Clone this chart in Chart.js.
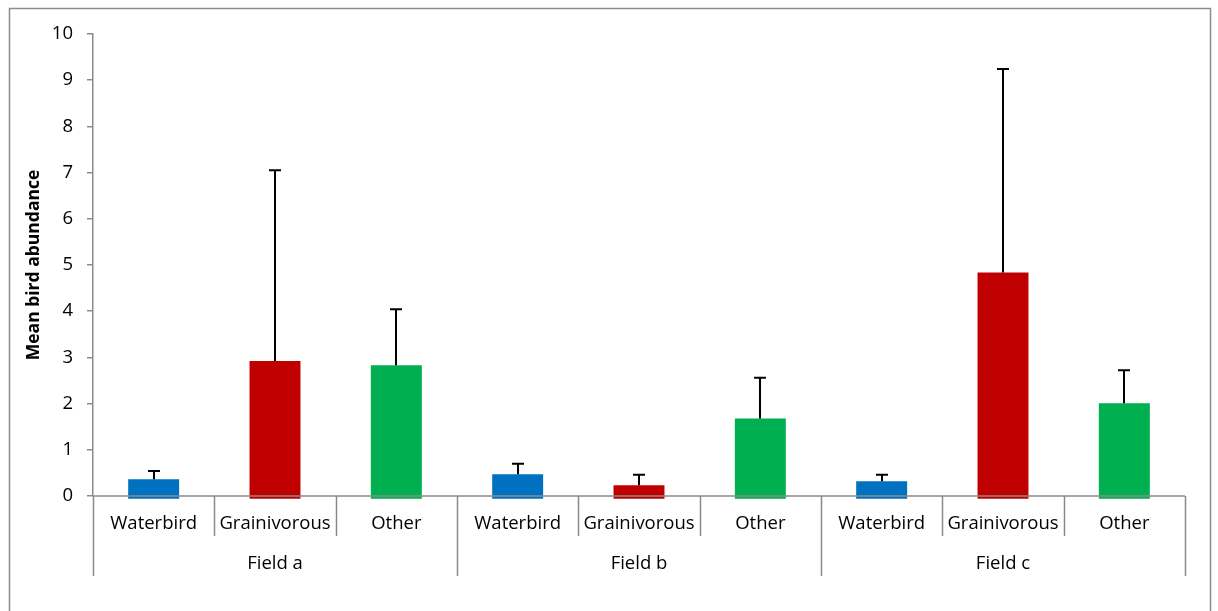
<!DOCTYPE html>
<html>
<head>
<meta charset="utf-8">
<script src="https://cdn.jsdelivr.net/npm/chart.js@4.4.1/dist/chart.umd.min.js"></script>
<style>
  html, body { margin: 0; padding: 0; background: #fff; }
  #wrap { position: relative; width: 1218px; height: 611px; }
</style>
</head>
<body>
<div id="wrap"><canvas id="c" width="1218" height="611"></canvas></div>
<script>
// Bird groups recorded in each field
const categories = ['Waterbird', 'Grainivorous', 'Other',
                    'Waterbird', 'Grainivorous', 'Other',
                    'Waterbird', 'Grainivorous', 'Other'];
const fields = ['Field a', 'Field b', 'Field c'];

// Mean abundance per group and the upper end of its error bar
const meanAbundance = [0.36, 2.92, 2.83, 0.47, 0.23, 1.68, 0.32, 4.84, 2.01];
const errorTop      = [0.54, 7.05, 4.04, 0.70, 0.46, 2.56, 0.46, 9.24, 2.72];

const yTicks = [0, 1, 2, 3, 4, 5, 6, 7, 8, 9, 10];

const groupColours = { Waterbird: '#0070C0', Grainivorous: '#C00000', Other: '#00B050' };
const AXIS_GREY = '#8a8a8a';
const FONT = '"Open Sans", "Liberation Sans", sans-serif';
const LABEL_SIZE = 18.5;

// Frame around the whole figure
const framePlugin = {
  id: 'frame',
  beforeDraw(chart) {
    const ctx = chart.ctx;
    ctx.save();
    ctx.strokeStyle = '#8c8c8c';
    ctx.lineWidth = 1.5;
    ctx.strokeRect(9.5, 8.5, 1201, 640);
    ctx.restore();
  }
};

// Horizontal axis line plus the category / field separators
const axisPlugin = {
  id: 'groupedAxis',
  afterDatasetsDraw(chart) {
    const ctx = chart.ctx;
    const x = chart.scales.x;
    const y0 = chart.scales.y.getPixelForValue(0);
    const step = (x.right - x.left) / categories.length;
    ctx.save();
    ctx.strokeStyle = AXIS_GREY;
    ctx.lineWidth = 1.5;
    ctx.beginPath();
    ctx.moveTo(x.left, y0);
    ctx.lineTo(x.right, y0);
    for (let i = 0; i <= categories.length; i++) {
      const px = Math.round(x.left + i * step) + 0.5;
      const depth = (i % 3 === 0) ? 80 : 40;
      ctx.moveTo(px, y0);
      ctx.lineTo(px, y0 + depth);
    }
    ctx.stroke();
    ctx.restore();
  }
};

// Upper error bars drawn from each bar top
const errorBarPlugin = {
  id: 'errorBars',
  afterDatasetsDraw(chart) {
    const ctx = chart.ctx;
    const yScale = chart.scales.y;
    const meta = chart.getDatasetMeta(0);
    ctx.save();
    ctx.strokeStyle = '#000';
    ctx.lineWidth = 2;
    meta.data.forEach((bar, i) => {
      const top = yScale.getPixelForValue(errorTop[i]);
      const px = Math.round(bar.x);
      ctx.beginPath();
      ctx.moveTo(px, bar.y);
      ctx.lineTo(px, top);
      ctx.moveTo(px - 6, top);
      ctx.lineTo(px + 6, top);
      ctx.stroke();
    });
    ctx.restore();
  }
};

new Chart(document.getElementById('c'), {
  type: 'bar',
  data: {
    labels: categories,
    datasets: [{
      data: meanAbundance,
      backgroundColor: categories.map(c => groupColours[c]),
      borderWidth: 0,
      base: -0.06,
      clip: false,
      categoryPercentage: 1,
      barPercentage: 0.42
    }]
  },
  options: {
    responsive: false,
    animation: false,
    events: [],
    layout: { padding: { left: 0, right: 33, top: 34, bottom: 0 } },
    plugins: {
      legend: { display: false },
      tooltip: { enabled: false }
    },
    scales: {
      x: {
        type: 'category',
        position: 'bottom',
        offset: true,
        grid: { display: false },
        border: { display: false },
        ticks: { color: '#000', font: { family: FONT, size: LABEL_SIZE }, padding: 9, maxRotation: 0, autoSkip: false },
        afterFit(scale) { scale.height = 40; }
      },
      x2: {
        type: 'category',
        position: 'bottom',
        labels: fields,
        offset: true,
        grid: { display: false },
        border: { display: false },
        ticks: { color: '#000', font: { family: FONT, size: LABEL_SIZE }, padding: 9, maxRotation: 0 },
        afterFit(scale) { scale.height = 75; }
      },
      y: {
        min: 0,
        max: 10,
        afterBuildTicks(scale) { scale.ticks = yTicks.map(v => ({ value: v })); },
        afterFit(scale) { scale.width = 93; },
        grid: { drawOnChartArea: false, drawTicks: true, tickLength: 6, color: AXIS_GREY, lineWidth: 1.5 },
        border: { color: AXIS_GREY, width: 1.5 },
        ticks: { color: '#000', font: { family: FONT, size: LABEL_SIZE }, padding: 14 },
        title: {
          display: true,
          text: 'Mean bird abundance',
          color: '#000',
          font: { family: FONT, size: 17.5, weight: 'bold' },
          padding: { top: 24, bottom: 0 }
        }
      }
    }
  },
  plugins: [framePlugin, axisPlugin, errorBarPlugin]
});
</script>
</body>
</html>
